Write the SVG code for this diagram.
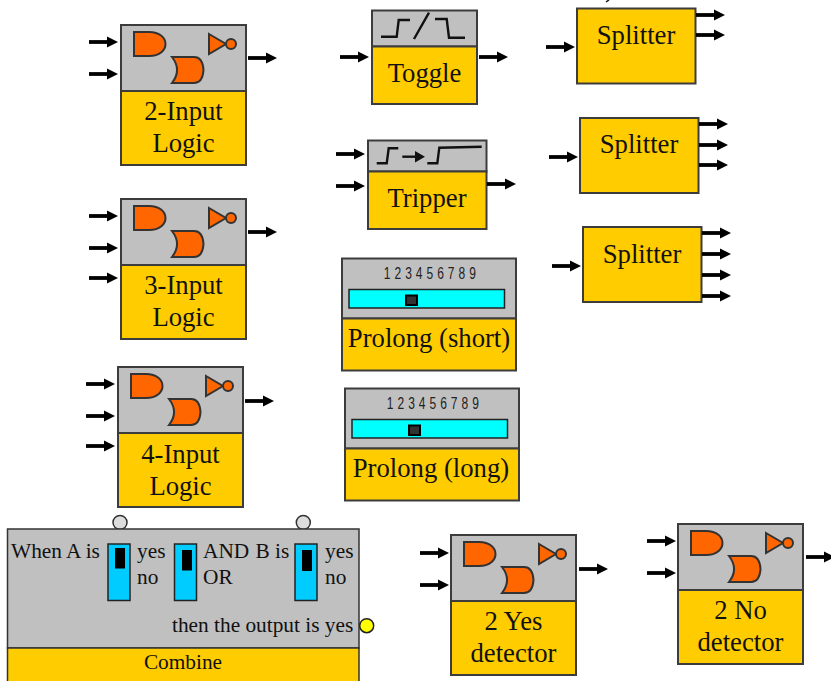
<svg xmlns="http://www.w3.org/2000/svg" width="831" height="681" viewBox="0 0 831 681">
<style>
text{font-family:"Liberation Serif","Times New Roman",serif;fill:#111}
.t{font-size:26.7px;text-anchor:middle}
.s{font-size:21.33px}
.d{font-family:"Liberation Sans",Arial,sans-serif;font-size:16px;letter-spacing:.46px;text-anchor:middle;fill:#222}
.g{fill:#c0c0c0;stroke:#3c3c3c;stroke-width:2}
.y{fill:#ffcc00;stroke:#3c3c3c;stroke-width:2}
.l{fill:#ff6600;stroke:#333;stroke-width:2}
.p{fill:none;stroke:#111;stroke-width:2.4}
.w{fill:#00ccff;stroke:#222;stroke-width:1.5}
.c line{stroke:#000;stroke-width:3.8;marker-end:url(#a)}
</style>
<defs>
<marker id="a" markerUnits="userSpaceOnUse" markerWidth="11" markerHeight="12" refX="1" refY="6" orient="auto"><path d="M0 .5L11 6L0 11.500z" fill="#000"/></marker>
<g id="logic">
<rect class="g" x="121" y="25" width="125" height="66"/>
<rect class="y" x="121" y="91" width="125" height="74"/>
<path class="l" d="M134 32H149C171 32 171 56 149 56H134Z"/>
<path class="l" d="M172 57H194C200 57 203 62 203.500 70C203 78 200 83 194 83H172C179 74 179 66 172 57Z"/>
<path class="l" d="M209 34L226 44L209 54Z"/>
<circle class="l" cx="231" cy="44" r="5"/>
</g>
<g id="switch"><rect class="w" x="0" y="0" width="22" height="56.500"/></g>
</defs>

<path d="M609 0L606 2" stroke="#111" stroke-width="1.500" fill="none"/>

<g id="logic2"><use href="#logic"/><text class="t" x="183.500" y="120">2-Input</text><text class="t" x="183.500" y="152">Logic</text></g>
<g id="logic3"><use href="#logic" y="174"/><text class="t" x="183.500" y="294">3-Input</text><text class="t" x="183.500" y="326">Logic</text></g>
<g id="logic4"><use href="#logic" x="-3" y="342"/><text class="t" x="180.500" y="463">4-Input</text><text class="t" x="180.500" y="495">Logic</text></g>
<g id="yes2"><use href="#logic" x="330" y="510"/><text class="t" x="513.500" y="630">2 Yes</text><text class="t" x="513.500" y="662">detector</text></g>
<g id="no2"><use href="#logic" x="557" y="499"/><text class="t" x="740.500" y="619">2 No</text><text class="t" x="740.500" y="651">detector</text></g>

<g id="toggle">
<rect class="g" x="372" y="10.500" width="105" height="36"/>
<rect class="y" x="372" y="46.500" width="105" height="57.500"/>
<path class="p" d="M381 36.700H396.700L398.700 20H410M429 12.700L414 39M435 19H446.700L449 37.700H465"/>
<text class="t" x="424.500" y="82">Toggle</text>
</g>
<g id="tripper">
<rect class="g" x="368" y="140.500" width="118.500" height="31"/>
<rect class="y" x="368" y="171.500" width="118.500" height="57.500"/>
<path class="p" d="M376.700 163.300H386.700L388.700 148.300H398.300M427.300 163.300H437.300L439.300 147.700L481.700 146.700"/>
<path d="M402.300 156.700H416" stroke="#111" stroke-width="2.400"/><path d="M415 151L425 156.700L415 162.400Z" fill="#111"/>
<text class="t" x="427" y="207">Tripper</text>
</g>
<g id="prolong-short">
<rect class="g" x="342" y="258.500" width="174" height="60"/>
<rect class="y" x="342" y="318.500" width="174" height="52"/>
<text class="d" transform="translate(430 278.500) scale(.75 1)">1 2 3 4 5 6 7 8 9</text>
<rect x="349" y="289.500" width="155.500" height="18.500" fill="#00ffff" stroke="#222" stroke-width="1.500"/>
<rect x="406" y="295.500" width="11" height="9.500" fill="#333" stroke="#000" stroke-width="2"/>
<text class="t" x="429" y="347">Prolong (short)</text>
</g>
<g id="prolong-long">
<rect class="g" x="345" y="388.500" width="174" height="60"/>
<rect class="y" x="345" y="448.500" width="174" height="52"/>
<text class="d" transform="translate(433 408.500) scale(.75 1)">1 2 3 4 5 6 7 8 9</text>
<rect x="352" y="419.500" width="155.500" height="18.500" fill="#00ffff" stroke="#222" stroke-width="1.500"/>
<rect x="409" y="425.500" width="11" height="9.500" fill="#333" stroke="#000" stroke-width="2"/>
<text class="t" x="431" y="477">Prolong (long)</text>
</g>
<g id="splitter1"><rect class="y" x="577" y="8.500" width="118.500" height="75"/><text class="t" x="636" y="44">Splitter</text></g>
<g id="splitter2"><rect class="y" x="580" y="118" width="118.500" height="75"/><text class="t" x="639" y="153">Splitter</text></g>
<g id="splitter3"><rect class="y" x="583" y="227" width="118.500" height="75"/><text class="t" x="642" y="263">Splitter</text></g>

<g id="combine">
<circle cx="120" cy="522.500" r="7" fill="#ddd" stroke="#333" stroke-width="1.500"/>
<circle cx="303.300" cy="522.500" r="7" fill="#ddd" stroke="#333" stroke-width="1.500"/>
<rect x="7.500" y="529" width="351.500" height="119" fill="#c0c0c0" stroke="#333" stroke-width="1.500"/>
<rect x="7.500" y="648" width="351.500" height="40" fill="#ffcc00" stroke="#333" stroke-width="1.500"/>
<circle cx="366.700" cy="625.700" r="7" fill="#ffff00" stroke="#222" stroke-width="1.500"/>
<use href="#switch" x="108" y="544"/><rect x="115" y="548" width="10" height="20.500" fill="#000"/>
<use href="#switch" x="174.500" y="544"/><rect x="182" y="550" width="10" height="20.500" fill="#000"/>
<use href="#switch" x="295" y="544"/><rect x="302" y="550" width="10" height="21" fill="#000"/>
<text class="s" x="11" y="558">When A is</text>
<text class="s" x="137" y="558">yes</text><text class="s" x="137" y="584">no</text>
<text class="s" x="203" y="558">AND</text><text class="s" x="203" y="584">OR</text>
<text class="s" x="255.500" y="558">B is</text>
<text class="s" x="325" y="558">yes</text><text class="s" x="325" y="584">no</text>
<text class="s" x="172" y="632">then the output is yes</text>
<text class="s" x="183" y="669" text-anchor="middle">Combine</text>
</g>

<g id="connectors" class="c">
<line x1="89" y1="42" x2="108" y2="42"/><line x1="89" y1="74" x2="108" y2="74"/><line x1="248" y1="58" x2="267" y2="58"/>
<line x1="89" y1="216" x2="108" y2="216"/><line x1="89" y1="248" x2="108" y2="248"/><line x1="89" y1="278" x2="108" y2="278"/><line x1="248" y1="232" x2="267" y2="232"/>
<line x1="86" y1="384" x2="105" y2="384"/><line x1="86" y1="416" x2="105" y2="416"/><line x1="86" y1="446" x2="105" y2="446"/><line x1="245" y1="401" x2="264" y2="401"/>
<line x1="420" y1="553" x2="439" y2="553"/><line x1="420" y1="585" x2="439" y2="585"/><line x1="579" y1="569" x2="598" y2="569"/>
<line x1="647" y1="541" x2="666" y2="541"/><line x1="647" y1="573" x2="666" y2="573"/><line x1="806" y1="557" x2="825" y2="557"/>
<line x1="340" y1="57" x2="359" y2="57"/><line x1="479" y1="57" x2="498" y2="57"/>
<line x1="336" y1="154" x2="355" y2="154"/><line x1="336" y1="186" x2="355" y2="186"/><line x1="487" y1="184" x2="506" y2="184"/>
<line x1="546" y1="47" x2="565" y2="47"/><line x1="696" y1="15" x2="715" y2="15"/><line x1="696" y1="35" x2="715" y2="35"/>
<line x1="549" y1="157" x2="568" y2="157"/><line x1="699" y1="124" x2="718" y2="124"/><line x1="699" y1="145" x2="718" y2="145"/><line x1="699" y1="165" x2="718" y2="165"/>
<line x1="552" y1="266" x2="571" y2="266"/><line x1="702" y1="233" x2="721" y2="233"/><line x1="702" y1="254" x2="721" y2="254"/><line x1="702" y1="275" x2="721" y2="275"/><line x1="702" y1="296" x2="721" y2="296"/>
</g>
</svg>
